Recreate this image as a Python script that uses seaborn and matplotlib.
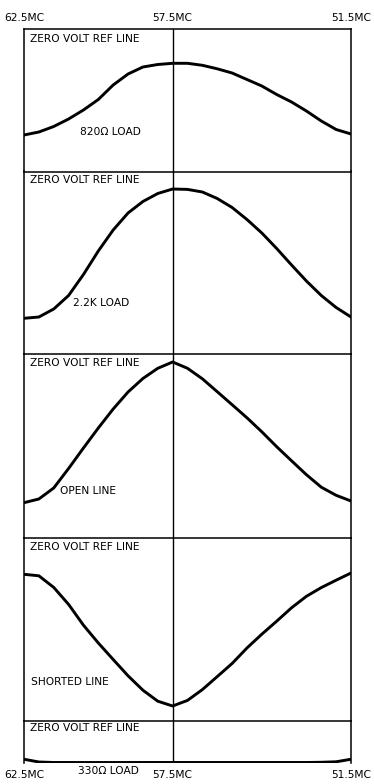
import matplotlib
matplotlib.use("Agg")
import matplotlib.pyplot as plt
import pandas as pd
import seaborn as sns

# Sweep frequency (MC), swept from high to low across the screen
freq_mc = [62.5, 62.0, 61.5, 61.0, 60.5, 60.0, 59.5, 59.0, 58.5, 58.0, 57.5,
           57.0, 56.5, 56.0, 55.5, 55.0, 54.5, 54.0, 53.5, 53.0, 52.5, 52.0, 51.5]

# Detector output below the zero-volt reference line (arbitrary units)
v_820 = [-10.65, -10.35, -9.8, -9.05, -8.15, -7.1, -5.65, -4.55, -3.85, -3.6, -3.48,
         -3.48, -3.68, -4.03, -4.45, -5.1, -5.75, -6.6, -7.35, -8.25, -9.25, -10.1, -10.55]
v_2k2 = [-14.68, -14.55, -13.75, -12.4, -10.3, -7.95, -5.85, -4.15, -3.0, -2.2, -1.75,
         -1.79, -2.05, -2.7, -3.6, -4.8, -6.15, -7.7, -9.35, -10.95, -12.4, -13.6, -14.55]
v_open = [-14.87, -14.5, -13.4, -11.45, -9.4, -7.4, -5.5, -3.8, -2.45, -1.43, -0.8,
          -1.43, -2.48, -3.77, -5.07, -6.38, -7.78, -9.27, -10.68, -12.07, -13.32, -14.13, -14.7]
v_short = [-3.6, -3.75, -4.91, -6.61, -8.69, -10.47, -12.12, -13.75, -15.19, -16.29, -16.77,
           -16.21, -15.13, -13.83, -12.52, -10.97, -9.59, -8.29, -6.95, -5.8, -4.93, -4.19, -3.47]
v_330 = [-3.78, -4.05, -4.1, -4.1, -4.1, -4.1, -4.1, -4.1, -4.1, -4.1, -4.1,
         -4.1, -4.1, -4.1, -4.1, -4.1, -4.1, -4.1, -4.1, -4.1, -4.08, -4.03, -3.78]

curve_names = ["820Ω LOAD", "2.2K LOAD", "OPEN LINE", "SHORTED LINE", "330Ω LOAD"]
ref_label = "ZERO VOLT REF LINE"
tick_mc = [62.5, 57.5, 51.5]
tick_labels = ["62.5MC", "57.5MC", "51.5MC"]

curves = [v_820, v_2k2, v_open, v_short, v_330]

sns.set_theme(style="white")
plt.rcParams["font.family"] = ["DejaVu Sans"]
plt.rcParams["text.color"] = "black"
plt.rcParams["xtick.color"] = "black"
plt.rcParams["xtick.labelcolor"] = "black"
FS = 7.7

W, H = 374, 784
fig = plt.figure(figsize=(W / 100, H / 100), dpi=100)
fig.patch.set_facecolor("white")

# Panel layout in pixels: (top, bottom) of each trace window
frame_left, frame_right = 24, 351
panel_px = [(28.5, 171.5), (171.5, 354), (354, 538.3), (538.3, 721), (721, 763)]
# Curve caption anchor (left x, centre y) in pixels; last one sits below the frame
caption_px = [(80, 132), (73, 303), (60, 491), (31, 682), (78, 771)]
ref_y_px = [39, 180.5, 363, 547, 728]

n = len(panel_px)
for i, ((top, bot), vals) in enumerate(zip(panel_px, curves)):
    h = bot - top
    ax = fig.add_axes([frame_left / W, 1 - bot / H,
                       (frame_right - frame_left) / W, h / H])
    ax.set_facecolor("none")
    df = pd.DataFrame({"freq": freq_mc, "volts": vals})
    sns.lineplot(data=df, x="freq", y="volts", ax=ax, color="black",
                 linewidth=2.1, sort=False, legend=False,
                 solid_joinstyle="round", solid_capstyle="round")
    ax.axvline(57.5, color="black", linewidth=1.0)
    ax.set_xlim(62.5, 51.5)
    if i == n - 1:
        ax.set_ylim(-h / 10 + 0.05, 0)
    else:
        ax.set_ylim(-h / 10, 0)
    ax.set_xlabel("")
    ax.set_ylabel("")
    ax.set_yticks([])
    for name, sp in ax.spines.items():
        sp.set_color("black")
        sp.set_linewidth(1.1)
        sp.set_visible(True)
    if i == n - 1:
        ax.spines["bottom"].set_visible(False)
    if i > 0:
        ax.spines["top"].set_visible(False)

    ax.text((30 - frame_left) / (frame_right - frame_left),
            1 - (ref_y_px[i] - top) / h, ref_label,
            transform=ax.transAxes, fontsize=FS, ha="left", va="center", color="black")

    cx, cy = caption_px[i]
    if i < n - 1:
        ax.text((cx - frame_left) / (frame_right - frame_left), 1 - (cy - top) / h,
                curve_names[i], transform=ax.transAxes, fontsize=FS,
                ha="left", va="center", color="black")
    else:
        fig.text(cx / W, 1 - cy / H, curve_names[i], fontsize=FS,
                 ha="left", va="center", color="black")

    ax.set_xticks(tick_mc)
    if i == 0:
        ax.xaxis.tick_top()
        ax.set_xticklabels(tick_labels, fontsize=FS, color="black")
        ax.tick_params(axis="x", length=0, pad=4)
    elif i == n - 1:
        ax.xaxis.tick_bottom()
        ax.set_xticklabels(tick_labels, fontsize=FS, color="black")
        ax.tick_params(axis="x", length=0, pad=5)
    else:
        ax.set_xticks([])

fig.savefig("out.png", dpi=100, facecolor="white")
